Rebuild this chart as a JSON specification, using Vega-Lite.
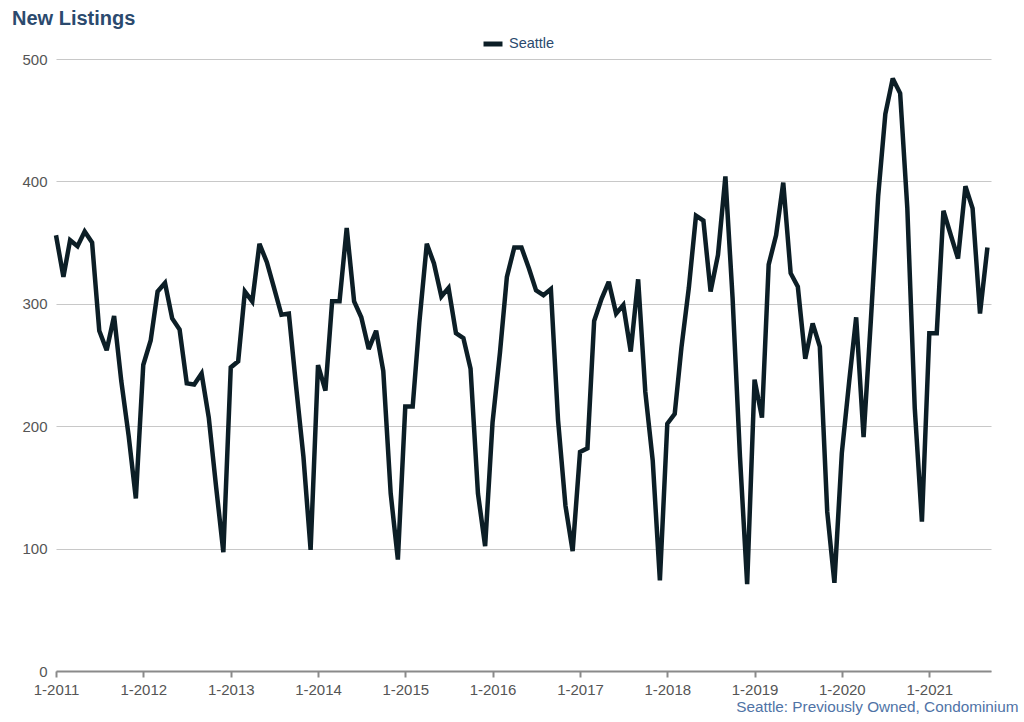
{
  "$schema": "https://vega.github.io/schema/vega-lite/v6.json",
  "autosize": "none",
  "width": 935,
  "height": 612,
  "padding": {"left": 56, "top": 59, "right": 33, "bottom": 51},
  "background": "white",
  "config": {
    "font": "Liberation Sans",
    "view": {"stroke": null}
  },
  "title": {
    "text": "New Listings",
    "anchor": "start",
    "frame": "group",
    "dx": -44,
    "offset": 3,
    "fontSize": 20,
    "fontWeight": "bold",
    "color": "#2b4a6e",
    "font": "Liberation Sans"
  },
  "data": {
    "values": [
      {"date": "2011-01-01", "value": 356, "area": "Seattle"},
      {"date": "2011-02-01", "value": 322, "area": "Seattle"},
      {"date": "2011-03-01", "value": 352, "area": "Seattle"},
      {"date": "2011-04-01", "value": 347, "area": "Seattle"},
      {"date": "2011-05-01", "value": 359, "area": "Seattle"},
      {"date": "2011-06-01", "value": 350, "area": "Seattle"},
      {"date": "2011-07-01", "value": 278, "area": "Seattle"},
      {"date": "2011-08-01", "value": 262, "area": "Seattle"},
      {"date": "2011-09-01", "value": 290, "area": "Seattle"},
      {"date": "2011-10-01", "value": 237, "area": "Seattle"},
      {"date": "2011-11-01", "value": 192, "area": "Seattle"},
      {"date": "2011-12-01", "value": 141, "area": "Seattle"},
      {"date": "2012-01-01", "value": 250, "area": "Seattle"},
      {"date": "2012-02-01", "value": 270, "area": "Seattle"},
      {"date": "2012-03-01", "value": 310, "area": "Seattle"},
      {"date": "2012-04-01", "value": 317, "area": "Seattle"},
      {"date": "2012-05-01", "value": 288, "area": "Seattle"},
      {"date": "2012-06-01", "value": 279, "area": "Seattle"},
      {"date": "2012-07-01", "value": 235, "area": "Seattle"},
      {"date": "2012-08-01", "value": 234, "area": "Seattle"},
      {"date": "2012-09-01", "value": 243, "area": "Seattle"},
      {"date": "2012-10-01", "value": 207, "area": "Seattle"},
      {"date": "2012-11-01", "value": 150, "area": "Seattle"},
      {"date": "2012-12-01", "value": 97, "area": "Seattle"},
      {"date": "2013-01-01", "value": 248, "area": "Seattle"},
      {"date": "2013-02-01", "value": 253, "area": "Seattle"},
      {"date": "2013-03-01", "value": 310, "area": "Seattle"},
      {"date": "2013-04-01", "value": 302, "area": "Seattle"},
      {"date": "2013-05-01", "value": 349, "area": "Seattle"},
      {"date": "2013-06-01", "value": 334, "area": "Seattle"},
      {"date": "2013-07-01", "value": 313, "area": "Seattle"},
      {"date": "2013-08-01", "value": 291, "area": "Seattle"},
      {"date": "2013-09-01", "value": 292, "area": "Seattle"},
      {"date": "2013-10-01", "value": 233, "area": "Seattle"},
      {"date": "2013-11-01", "value": 175, "area": "Seattle"},
      {"date": "2013-12-01", "value": 99, "area": "Seattle"},
      {"date": "2014-01-01", "value": 250, "area": "Seattle"},
      {"date": "2014-02-01", "value": 229, "area": "Seattle"},
      {"date": "2014-03-01", "value": 302, "area": "Seattle"},
      {"date": "2014-04-01", "value": 302, "area": "Seattle"},
      {"date": "2014-05-01", "value": 362, "area": "Seattle"},
      {"date": "2014-06-01", "value": 302, "area": "Seattle"},
      {"date": "2014-07-01", "value": 289, "area": "Seattle"},
      {"date": "2014-08-01", "value": 263, "area": "Seattle"},
      {"date": "2014-09-01", "value": 278, "area": "Seattle"},
      {"date": "2014-10-01", "value": 245, "area": "Seattle"},
      {"date": "2014-11-01", "value": 145, "area": "Seattle"},
      {"date": "2014-12-01", "value": 91, "area": "Seattle"},
      {"date": "2015-01-01", "value": 216, "area": "Seattle"},
      {"date": "2015-02-01", "value": 216, "area": "Seattle"},
      {"date": "2015-03-01", "value": 285, "area": "Seattle"},
      {"date": "2015-04-01", "value": 349, "area": "Seattle"},
      {"date": "2015-05-01", "value": 333, "area": "Seattle"},
      {"date": "2015-06-01", "value": 306, "area": "Seattle"},
      {"date": "2015-07-01", "value": 313, "area": "Seattle"},
      {"date": "2015-08-01", "value": 276, "area": "Seattle"},
      {"date": "2015-09-01", "value": 272, "area": "Seattle"},
      {"date": "2015-10-01", "value": 247, "area": "Seattle"},
      {"date": "2015-11-01", "value": 145, "area": "Seattle"},
      {"date": "2015-12-01", "value": 102, "area": "Seattle"},
      {"date": "2016-01-01", "value": 203, "area": "Seattle"},
      {"date": "2016-02-01", "value": 260, "area": "Seattle"},
      {"date": "2016-03-01", "value": 322, "area": "Seattle"},
      {"date": "2016-04-01", "value": 346, "area": "Seattle"},
      {"date": "2016-05-01", "value": 346, "area": "Seattle"},
      {"date": "2016-06-01", "value": 329, "area": "Seattle"},
      {"date": "2016-07-01", "value": 311, "area": "Seattle"},
      {"date": "2016-08-01", "value": 307, "area": "Seattle"},
      {"date": "2016-09-01", "value": 312, "area": "Seattle"},
      {"date": "2016-10-01", "value": 205, "area": "Seattle"},
      {"date": "2016-11-01", "value": 135, "area": "Seattle"},
      {"date": "2016-12-01", "value": 98, "area": "Seattle"},
      {"date": "2017-01-01", "value": 179, "area": "Seattle"},
      {"date": "2017-02-01", "value": 182, "area": "Seattle"},
      {"date": "2017-03-01", "value": 286, "area": "Seattle"},
      {"date": "2017-04-01", "value": 304, "area": "Seattle"},
      {"date": "2017-05-01", "value": 318, "area": "Seattle"},
      {"date": "2017-06-01", "value": 292, "area": "Seattle"},
      {"date": "2017-07-01", "value": 299, "area": "Seattle"},
      {"date": "2017-08-01", "value": 261, "area": "Seattle"},
      {"date": "2017-09-01", "value": 320, "area": "Seattle"},
      {"date": "2017-10-01", "value": 228, "area": "Seattle"},
      {"date": "2017-11-01", "value": 172, "area": "Seattle"},
      {"date": "2017-12-01", "value": 74, "area": "Seattle"},
      {"date": "2018-01-01", "value": 202, "area": "Seattle"},
      {"date": "2018-02-01", "value": 210, "area": "Seattle"},
      {"date": "2018-03-01", "value": 264, "area": "Seattle"},
      {"date": "2018-04-01", "value": 313, "area": "Seattle"},
      {"date": "2018-05-01", "value": 372, "area": "Seattle"},
      {"date": "2018-06-01", "value": 368, "area": "Seattle"},
      {"date": "2018-07-01", "value": 310, "area": "Seattle"},
      {"date": "2018-08-01", "value": 340, "area": "Seattle"},
      {"date": "2018-09-01", "value": 404, "area": "Seattle"},
      {"date": "2018-10-01", "value": 305, "area": "Seattle"},
      {"date": "2018-11-01", "value": 175, "area": "Seattle"},
      {"date": "2018-12-01", "value": 71, "area": "Seattle"},
      {"date": "2019-01-01", "value": 238, "area": "Seattle"},
      {"date": "2019-02-01", "value": 207, "area": "Seattle"},
      {"date": "2019-03-01", "value": 332, "area": "Seattle"},
      {"date": "2019-04-01", "value": 356, "area": "Seattle"},
      {"date": "2019-05-01", "value": 399, "area": "Seattle"},
      {"date": "2019-06-01", "value": 325, "area": "Seattle"},
      {"date": "2019-07-01", "value": 314, "area": "Seattle"},
      {"date": "2019-08-01", "value": 255, "area": "Seattle"},
      {"date": "2019-09-01", "value": 284, "area": "Seattle"},
      {"date": "2019-10-01", "value": 265, "area": "Seattle"},
      {"date": "2019-11-01", "value": 130, "area": "Seattle"},
      {"date": "2019-12-01", "value": 72, "area": "Seattle"},
      {"date": "2020-01-01", "value": 178, "area": "Seattle"},
      {"date": "2020-02-01", "value": 237, "area": "Seattle"},
      {"date": "2020-03-01", "value": 289, "area": "Seattle"},
      {"date": "2020-04-01", "value": 191, "area": "Seattle"},
      {"date": "2020-05-01", "value": 285, "area": "Seattle"},
      {"date": "2020-06-01", "value": 388, "area": "Seattle"},
      {"date": "2020-07-01", "value": 455, "area": "Seattle"},
      {"date": "2020-08-01", "value": 484, "area": "Seattle"},
      {"date": "2020-09-01", "value": 472, "area": "Seattle"},
      {"date": "2020-10-01", "value": 378, "area": "Seattle"},
      {"date": "2020-11-01", "value": 215, "area": "Seattle"},
      {"date": "2020-12-01", "value": 122, "area": "Seattle"},
      {"date": "2021-01-01", "value": 276, "area": "Seattle"},
      {"date": "2021-02-01", "value": 276, "area": "Seattle"},
      {"date": "2021-03-01", "value": 376, "area": "Seattle"},
      {"date": "2021-04-01", "value": 356, "area": "Seattle"},
      {"date": "2021-05-01", "value": 337, "area": "Seattle"},
      {"date": "2021-06-01", "value": 396, "area": "Seattle"},
      {"date": "2021-07-01", "value": 378, "area": "Seattle"},
      {"date": "2021-08-01", "value": 292, "area": "Seattle"},
      {"date": "2021-09-01", "value": 346, "area": "Seattle"}
    ]
  },
  "mark": {"type": "line", "strokeWidth": 4.5, "strokeJoin": "miter", "strokeCap": "butt", "strokeMiterLimit": 3},
  "encoding": {
    "x": {
      "field": "date",
      "type": "temporal",
      "scale": {"type": "utc", "domain": [{"year": 2011, "month": 1, "date": 1, "utc": true}, {"year": 2021, "month": 9, "date": 16, "utc": true}]},
      "axis": {
        "title": "Seattle: Previously Owned, Condominium",
        "titleColor": "#4f73a6",
        "titleFontSize": 15.3,
        "titleFontWeight": "normal",
        "titleFont": "Liberation Sans",
        "titleAnchor": "end",
        "titleAlign": "right",
        "titleX": 962,
        "titleY": 40,
        "titleBaseline": "alphabetic",
        "format": "%-m-%Y",
        "tickCount": {"interval": "year", "step": 1},
        "grid": false,
        "domainColor": "#8a8a8a",
        "domainWidth": 2,
        "tickColor": "#8a8a8a",
        "tickWidth": 2,
        "tickSize": 6,
        "labelColor": "#555555",
        "labelFontSize": 15,
        "labelPadding": 5,
        "labelFlush": false
      }
    },
    "y": {
      "field": "value",
      "type": "quantitative",
      "scale": {"domain": [0, 500], "nice": false},
      "axis": {
        "title": null,
        "values": [0, 100, 200, 300, 400, 500],
        "domain": false,
        "ticks": false,
        "gridColor": "#c8c8c8",
        "gridWidth": 1.2,
        "labelColor": "#555555",
        "labelFontSize": 15,
        "labelPadding": 9
      }
    },
    "color": {
      "field": "area",
      "type": "nominal",
      "scale": {"range": ["#0c1e26"]},
      "legend": {
        "title": null,
        "orient": "none",
        "legendX": 425,
        "legendY": -27,
        "direction": "horizontal",
        "symbolType": "stroke",
        "symbolStrokeWidth": 5,
        "symbolSize": 360,
        "labelColor": "#2b4a6e",
        "labelFontSize": 14.5,
        "labelFont": "Liberation Sans"
      }
    }
  }
}
